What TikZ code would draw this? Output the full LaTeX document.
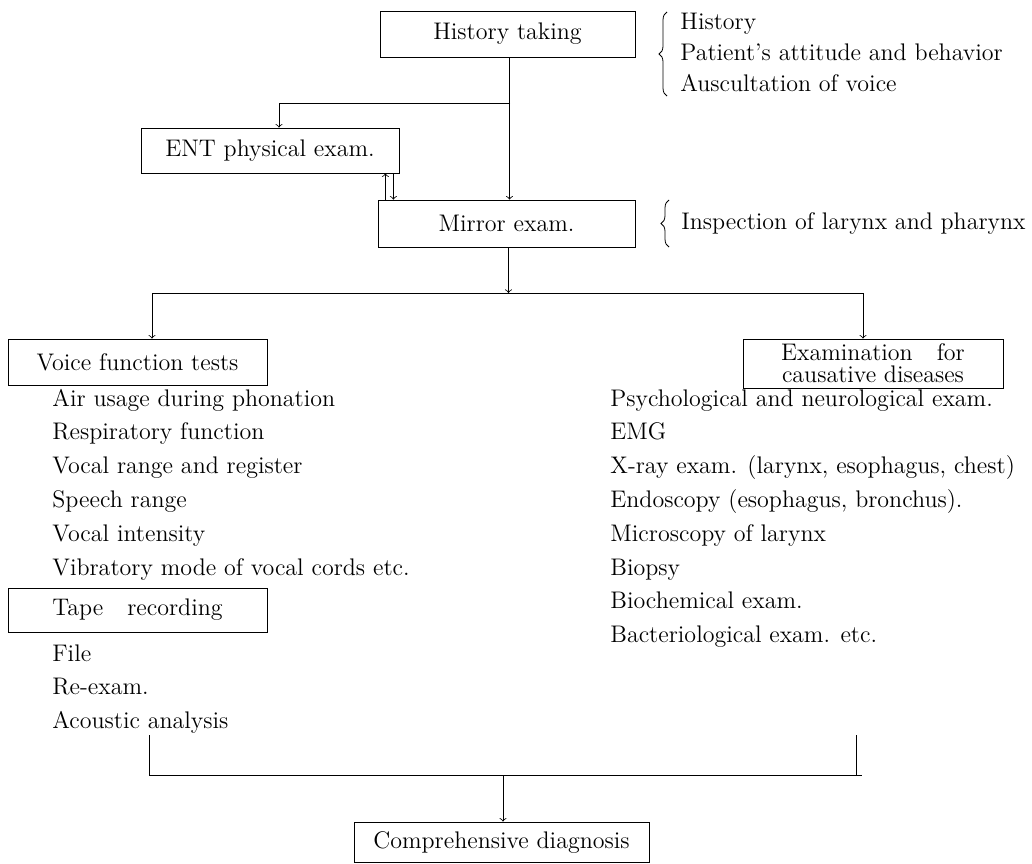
\documentclass[tikz,border=0pt]{standalone}
\usepackage{tikz}
\usetikzlibrary{positioning,calc,decorations.pathreplacing}

\begin{document}
\begin{tikzpicture}[x=0.5pt, y=-0.5pt, >=To, font=\fontsize{12}{14}\selectfont,
    stagebox/.style={rectangle, draw=black, thin, text centered, inner sep=2pt},
    entry/.style={anchor=west, inner sep=0pt, text height=8.5pt, text depth=2.5pt},
    flow/.style={->, thin},
    bracket/.style={decorate, decoration={brace, amplitude=4pt}, thin}]
    \useasboundingbox (0,0) rectangle (1032,863);

    % Stage boxes down the middle
    \node [stagebox, minimum width=127.5pt, minimum height=23pt] (hist) at (507.5,34) {History taking};
    \node [stagebox, minimum width=129pt, minimum height=22.5pt] (ent) at (270,150.5) {ENT physical exam.};
    \node [stagebox, minimum width=128.5pt, minimum height=23.5pt] (mirror) at (506.5,223.5) {Mirror exam.};

    % Notes next to the top boxes
    \draw [bracket] (667,96) -- (667,12);
    \node [entry] (histnote1) at (680,23) {History};
    \node [entry] (histnote2) at (680,54) {Patient's attitude and behavior};
    \node [entry] (histnote3) at (680,85) {Auscultation of voice};
    \draw [bracket] (669,247) -- (669,200);
    \node [entry] (mirrornote) at (681,223) {Inspection of larynx and pharynx};

    % Two branches
    \node [stagebox, minimum width=129.5pt, minimum height=23pt] (voice) at (137.5,362) {Voice function tests};
    \node [stagebox, minimum width=130pt, minimum height=24.5pt, align=center,
        font=\fontsize{12}{11}\selectfont] (cause) at (873,363.5) {Examination\quad for\\causative diseases};

    % Voice function tests list
    \node [entry] (air) at (52,400) {Air usage during phonation};
    \node [entry, below=5.5pt of air.south west, anchor=north west] (resp) {Respiratory function};
    \node [entry, below=5.5pt of resp.south west, anchor=north west] (range) {Vocal range and register};
    \node [entry, below=5.5pt of range.south west, anchor=north west] (speech) {Speech range};
    \node [entry, below=5.5pt of speech.south west, anchor=north west] (intens) {Vocal intensity};
    \node [entry, below=5.5pt of intens.south west, anchor=north west] (vibr) {Vibratory mode of vocal cords etc.};

    \node [stagebox, minimum width=129.5pt, minimum height=22pt] (tape) at (137.5,610) {Tape\quad recording};
    \node [entry] (file) at (52,655) {File};
    \node [entry, below=5.5pt of file.south west, anchor=north west] (reexam) {Re-exam.};
    \node [entry, below=5.5pt of reexam.south west, anchor=north west] (acoustic) {Acoustic analysis};

    % Causative diseases list
    \node [entry] (psych) at (610,400) {Psychological and neurological exam.};
    \node [entry, below=5.5pt of psych.south west, anchor=north west] (emg) {EMG};
    \node [entry, below=5.5pt of emg.south west, anchor=north west] (xray) {X-ray exam. (larynx, esophagus, chest)};
    \node [entry, below=5.5pt of xray.south west, anchor=north west] (endo) {Endoscopy (esophagus, bronchus).};
    \node [entry, below=5.5pt of endo.south west, anchor=north west] (micro) {Microscopy of larynx};
    \node [entry, below=5.5pt of micro.south west, anchor=north west] (biopsy) {Biopsy};
    \node [entry, below=5.5pt of biopsy.south west, anchor=north west] (biochem) {Biochemical exam.};
    \node [entry, below=5.5pt of biochem.south west, anchor=north west] (bacter) {Bacteriological exam. etc.};

    \node [stagebox, minimum width=147.5pt, minimum height=20pt] (diag) at (501.5,842) {Comprehensive diagnosis};

    % Junction points
    \coordinate (split) at (510,103);
    \coordinate (fork) at (509,293);
    \coordinate (forkl) at (152,293);
    \coordinate (forkr) at (864,293);
    \coordinate (joinlt) at (149,735);
    \coordinate (joinrt) at (856,735);
    \coordinate (joinl) at (149,775);
    \coordinate (joinr) at (862,775);
    \coordinate (join) at (503,775);

    % Flow arrows
    \draw [flow] ([xshift=1pt]hist.south) -- ([xshift=1pt]hist.south |- mirror.north);
    \draw [flow] (split) -| ([xshift=4.5pt]ent.north);
    \draw [flow] ([xshift=-7pt]ent.south east |- mirror.north) -- ([xshift=-7pt]ent.south east);
    \draw [flow] ([xshift=-3pt]ent.south east) -- ([xshift=-3pt]ent.south east |- mirror.north);
    \draw [flow] ([xshift=1pt]mirror.south) -- ([xshift=1pt]mirror.south |- fork);
    \draw (forkl) -- (forkr);
    \draw [flow] (forkl) -- (forkl |- voice.north);
    \draw [flow] ([xshift=-0.5pt]forkr) -- ([xshift=-0.5pt]forkr |- cause.north);
    \draw (joinlt) -- (joinl) -- (joinr);
    \draw (joinrt) -- (joinrt |- joinr);
    \draw [flow] (join) -- (join |- diag.north);

\end{tikzpicture}
\end{document}
